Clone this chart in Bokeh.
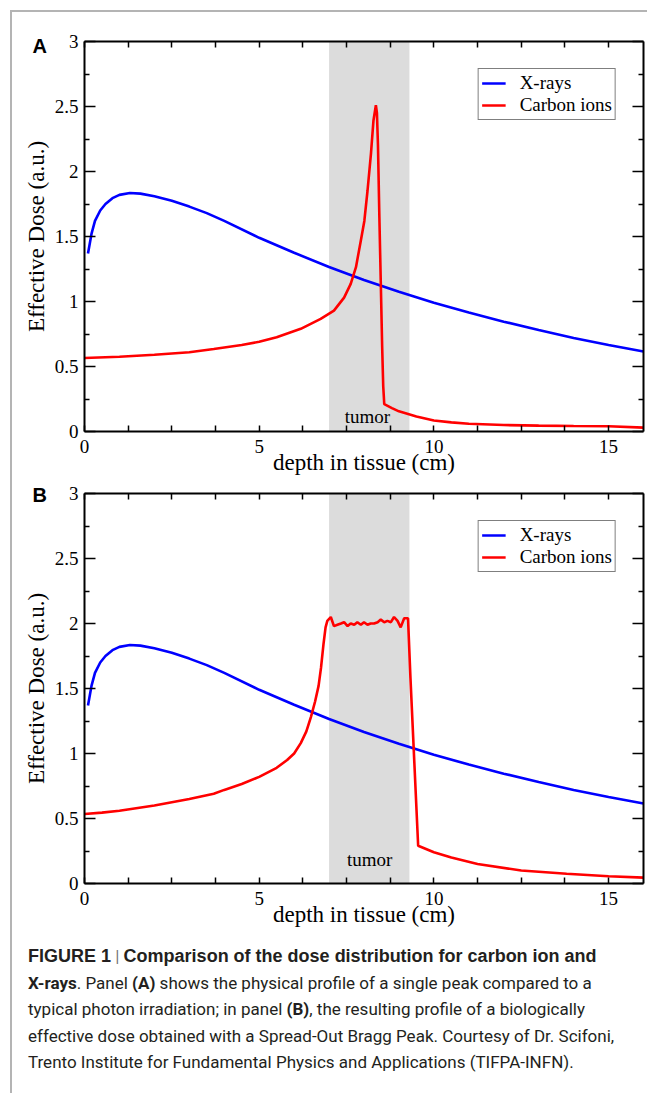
from bokeh.plotting import figure
from bokeh.models import (FixedTicker, LinearAxis, Legend, LegendItem, BoxAnnotation,
                          Div, Range1d, Title)
from bokeh.layouts import column
from bokeh.embed import file_html
from bokeh.resources import INLINE
from bokeh.core.properties import value

# ---------------- data ----------------
xray_depth = [0.1, 0.2, 0.3, 0.45, 0.6, 0.8, 1.0, 1.3, 1.6, 2.0, 2.5, 3.0, 3.5, 4.0,
              5.0, 6.0, 7.0, 8.0, 9.0, 10.0, 11.0, 12.0, 13.0, 14.0, 15.0, 16.0]
xray_dose = [1.37, 1.52, 1.62, 1.70, 1.75, 1.795, 1.82, 1.835, 1.83, 1.81, 1.775, 1.73,
             1.68, 1.62, 1.49, 1.375, 1.265, 1.165, 1.075, 0.99, 0.915, 0.845, 0.78,
             0.72, 0.665, 0.615]

carbon_a_depth = [0.0, 1.0, 2.0, 2.5, 3.0, 3.7, 4.5, 5.0, 5.5, 6.19, 6.76, 7.14, 7.43,
                  7.62, 7.77, 7.91, 8.01, 8.10, 8.20, 8.27, 8.34, 8.37, 8.40, 8.44, 8.48,
                  8.52, 8.55, 8.58, 8.8, 9.0, 9.5, 10.0, 10.5, 11.0, 12.0, 13.0, 14.0,
                  15.0, 16.0]
carbon_a_dose = [0.565, 0.575, 0.59, 0.60, 0.61, 0.635, 0.665, 0.69, 0.725, 0.79, 0.867,
                 0.93, 1.03, 1.136, 1.264, 1.47, 1.62, 1.85, 2.14, 2.39, 2.51, 2.45, 2.2,
                 1.65, 1.15, 0.65, 0.35, 0.21, 0.18, 0.155, 0.115, 0.085, 0.07, 0.06,
                 0.05, 0.045, 0.042, 0.04, 0.03]

carbon_b_depth = [0.0, 0.5, 1.0, 2.0, 3.0, 3.7, 4.0, 4.5, 5.0, 5.5, 5.8, 6.0, 6.19, 6.35,
                  6.48, 6.6, 6.7, 6.77, 6.84, 6.9, 6.95, 7.05, 7.14, 7.24, 7.34, 7.43,
                  7.53, 7.62, 7.72, 7.81, 7.91, 8.00, 8.10, 8.19, 8.29, 8.39, 8.48, 8.58,
                  8.67, 8.77, 8.86, 8.96, 9.05, 9.15, 9.26, 9.33, 9.55, 10.0, 10.5, 11.25,
                  12.5, 13.8, 15.0, 16.0]
carbon_b_dose = [0.535, 0.545, 0.56, 0.60, 0.65, 0.69, 0.72, 0.765, 0.82, 0.89, 0.95,
                 1.0, 1.08, 1.17, 1.28, 1.40, 1.52, 1.66, 1.84, 1.97, 2.02, 2.05, 1.98,
                 1.99, 2.00, 2.01, 1.98, 2.00, 1.99, 2.01, 1.99, 2.01, 1.99, 2.00, 2.00,
                 2.01, 2.03, 2.01, 2.02, 2.01, 2.05, 2.02, 1.97, 2.04, 2.04, 1.58, 0.29,
                 0.24, 0.20, 0.15, 0.10, 0.075, 0.056, 0.045]

tumor_region = [7.0, 9.3]
series_names = ["X-rays", "Carbon ions"]
x_major = [0, 5, 10, 15]
x_labels = ["0", "5", "10", "15"]
x_minor = [1.25, 2.5, 3.75, 6.25, 7.5, 8.75, 11.25, 12.5, 13.75]
y_major = [0, 0.5, 1, 1.5, 2, 2.5, 3]
y_labels = ["0", "0.5", "1", "1.5", "2", "2.5", "3"]
y_minor = [0.25, 0.75, 1.25, 1.75, 2.25, 2.75]

SERIF = "Liberation Serif"
BLUE = "#0000ff"
RED = "#ff0000"


def style_axis(ax, tick_in, minor_in):
    ax.axis_line_color = "black"
    ax.axis_line_width = 2
    ax.major_tick_line_color = "black"
    ax.minor_tick_line_color = "black"
    ax.major_tick_line_width = 1.5
    ax.minor_tick_line_width = 1.5
    ax.major_tick_out = 0
    ax.minor_tick_out = 0
    ax.major_tick_in = tick_in
    ax.minor_tick_in = minor_in
    ax.major_label_text_font = SERIF
    ax.major_label_text_font_size = "19px"
    ax.major_label_text_color = "black"


def make_panel(letter, title_standoff, carbon_x, carbon_y, tumor_x, tumor_y, height,
               top_border):
    p = figure(width=635, height=height, x_range=Range1d(0, 16), y_range=Range1d(0, 3),
               output_backend="svg", toolbar_location=None,
               min_border_left=72, min_border_right=4, min_border_top=top_border,
               min_border_bottom=47)
    p.outline_line_color = None
    p.grid.visible = False
    p.border_fill_color = "white"

    band = BoxAnnotation(left=tumor_region[0], right=tumor_region[1],
                         fill_color="#dcdcdc", fill_alpha=1.0, line_color=None,
                         level="underlay")
    p.add_layout(band)

    r1 = p.line(xray_depth, xray_dose, line_color=BLUE, line_width=2.6)
    r2 = p.line(carbon_x, carbon_y, line_color=RED, line_width=2.6)

    p.text(x=[tumor_x], y=[tumor_y], text=["tumor"], text_font=value(SERIF),
           text_font_size="19px", text_align="center", text_baseline="alphabetic",
           text_color="black")

    xt = FixedTicker(ticks=x_major, minor_ticks=x_minor)
    yt = FixedTicker(ticks=y_major, minor_ticks=y_minor)

    xa = p.xaxis[0]
    xa.ticker = xt
    xa.major_label_overrides = dict(zip(x_major, x_labels))
    style_axis(xa, 6, 6)
    xa.major_label_standoff = 8
    xa.axis_label = "depth in tissue (cm)"
    xa.axis_label_text_font = SERIF
    xa.axis_label_text_font_size = "23px"
    xa.axis_label_text_font_style = "normal"
    xa.axis_label_text_color = "black"
    xa.axis_label_standoff = -6

    ya = p.yaxis[0]
    ya.ticker = yt
    ya.major_label_overrides = dict(zip(y_major, y_labels))
    style_axis(ya, 11, 5)
    ya.major_label_standoff = 6
    ya.axis_label = "Effective Dose (a.u.)"
    ya.axis_label_text_font = SERIF
    ya.axis_label_text_font_size = "23px"
    ya.axis_label_text_font_style = "normal"
    ya.axis_label_text_color = "black"
    ya.axis_label_standoff = 3

    top = LinearAxis(ticker=xt, major_label_overrides={t: "" for t in x_major})
    style_axis(top, 6, 6)
    top.major_label_text_font_size = "1px"
    top.major_label_standoff = 0
    p.add_layout(top, "above")

    right = LinearAxis(ticker=yt, major_label_overrides={t: "" for t in y_major})
    style_axis(right, 11, 5)
    right.major_label_text_font_size = "1px"
    right.major_label_standoff = 0
    p.add_layout(right, "right")

    legend = Legend(items=[LegendItem(label=series_names[0], renderers=[r1]),
                           LegendItem(label=series_names[1], renderers=[r2])],
                    location="top_right", margin=27, padding=3, spacing=0,
                    glyph_width=24, glyph_height=20, label_height=20,
                    label_standoff=14, label_text_font=SERIF,
                    label_text_font_size="19px", label_text_color="black",
                    border_line_color="black", border_line_width=1,
                    background_fill_color="white", background_fill_alpha=1.0)
    p.add_layout(legend)

    p.title = Title(text=letter, align="left", offset=-52, standoff=title_standoff,
                    text_font="Liberation Sans", text_font_style="bold",
                    text_font_size="20px", text_color="black")
    return p


pA = make_panel("A", -30, carbon_a_depth, carbon_a_dose, 8.1, 0.115, 466, 29)
pB = make_panel("B", -24, carbon_b_depth, carbon_b_dose, 8.16, 0.185, 452, 15)

B1 = "font-family:'Liberation Sans', sans-serif; font-weight:bold; font-size:18px;"
B2 = "font-weight:bold;"
caption_html = (
    '<div style="padding:13px 0 0 16px; font-family:Roboto, sans-serif; font-size:17px; '
    'line-height:26.5px; color:#231f20; white-space:nowrap;">'
    f'<span style="{B1}">FIGURE 1</span> <span style="color:#777">|</span> '
    f'<span style="{B1}">Comparison of the dose distribution for carbon ion and</span><br>'
    f'<span style="{B2}">X-rays</span>. Panel <span style="{B2}">(A)</span> shows the physical '
    'profile of a single peak compared to a<br>'
    f'typical photon irradiation; in panel <span style="{B2}">(B)</span>, the resulting '
    'profile of a biologically<br>'
    'effective dose obtained with a Spread-Out Bragg Peak. Courtesy of Dr. Scifoni,<br>'
    'Trento Institute for Fundamental Physics and Applications (TIFPA-INFN).'
    '</div>'
)
caption = Div(text=caption_html, width=635, height=163, margin=0)

layout = column(pA, pB, caption, margin=(10, 0, 0, 10),
                styles={"border-left": "2px solid #b4b4b4",
                        "border-top": "2px solid #b4b4b4"})

open("out.html", "w").write(file_html(layout, INLINE))
